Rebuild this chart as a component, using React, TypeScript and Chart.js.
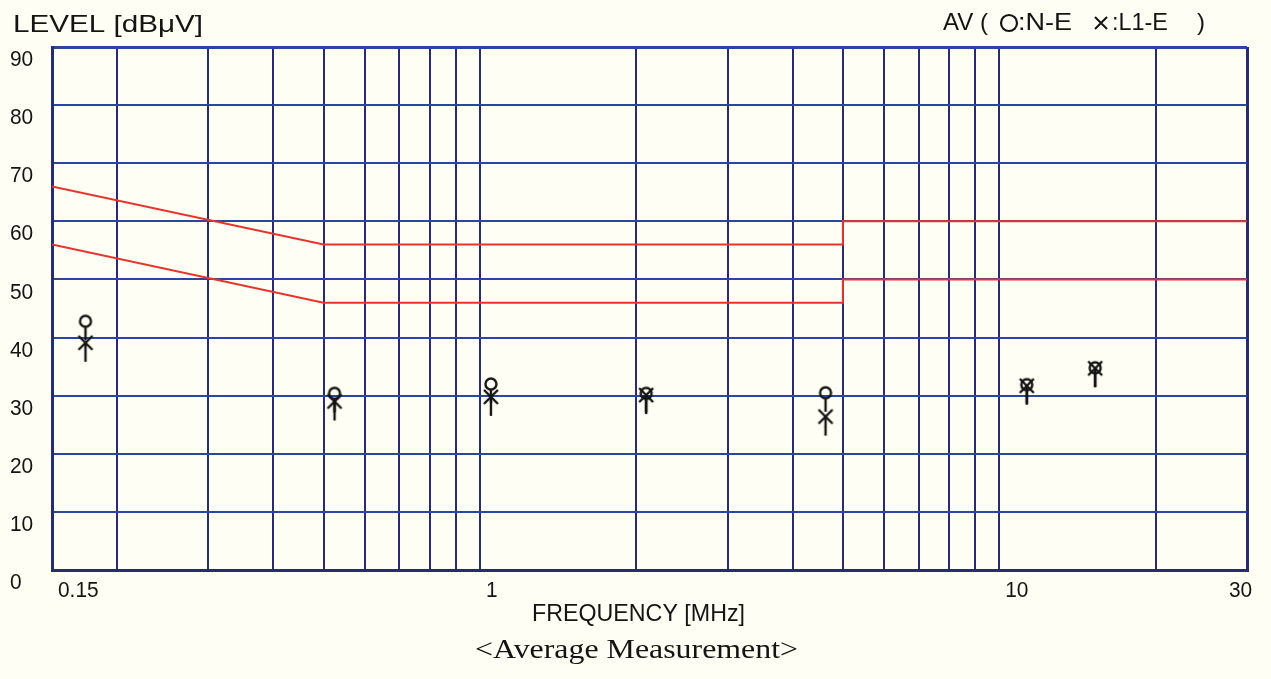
import React, { useEffect, useRef } from "react";
import { Chart, registerables } from "chart.js";

Chart.register(...registerables);

// ---- data ----
const FREQ_MHZ = [0.174, 0.525, 1.05, 2.09, 4.63, 11.3, 15.3];
const LEVEL_NE = [42.8, 30.4, 32.0, 30.4, 30.5, 31.9, 34.8];
const LEVEL_L1E = [39.1, 29.0, 29.8, 30.1, 26.4, 31.7, 34.7];

const LIMIT_FREQ = [0.15, 0.5, 5, 5, 30];
const LIMIT_UPPER = [66, 56, 56, 60, 60];
const LIMIT_LOWER = [56, 46, 46, 50, 50];

const X_GRID = [0.15, 0.2, 0.3, 0.4, 0.5, 0.6, 0.7, 0.8, 0.9, 1, 2, 3, 4, 5, 6, 7, 8, 9, 10, 20, 30];
const X_LABELS = [0.15, 1, 10, 30];
const Y_TICKS = [0, 10, 20, 30, 40, 50, 60, 70, 80, 90];

const Y_TITLE = "LEVEL [dB\u03BCV]";
const X_TITLE = "FREQUENCY [MHz]";
const LEGEND_PREFIX = "AV (";
const LEGEND_NE = ":N-E";
const LEGEND_L1E = ":L1-E";
const LEGEND_SUFFIX = ")";
const CAPTION = "<Average Measurement>";

const BG = "#fefef4";
const INK = "#141414";

function makeMarker(kind: "circle" | "cross"): HTMLCanvasElement {
  const c = document.createElement("canvas");
  c.width = 22;
  c.height = 60;
  const g = c.getContext("2d")!;
  g.strokeStyle = INK;
  g.lineWidth = 2.4;
  g.lineCap = "butt";
  const cx = 11;
  const cy = 30;
  if (kind === "circle") {
    g.beginPath();
    g.arc(cx, cy, 5.5, 0, Math.PI * 2);
    g.stroke();
    g.beginPath();
    g.moveTo(cx, cy + 5.5);
    g.lineTo(cx, cy + 19);
    g.stroke();
  } else {
    g.beginPath();
    g.moveTo(cx - 7, cy - 7);
    g.lineTo(cx + 7, cy + 7);
    g.moveTo(cx + 7, cy - 7);
    g.lineTo(cx - 7, cy + 7);
    g.stroke();
    g.beginPath();
    g.moveTo(cx, cy);
    g.lineTo(cx, cy + 19);
    g.stroke();
  }
  return c;
}

const bgPlugin = {
  id: "bgFill",
  beforeDraw(chart: any) {
    const { ctx, width, height } = chart;
    ctx.save();
    ctx.fillStyle = BG;
    ctx.fillRect(0, 0, width, height);
    ctx.restore();
  },
};

const textPlugin = {
  id: "texts",
  afterDraw(chart: any) {
    const { ctx, chartArea: a, scales } = chart;
    const tickFont = '22px "Liberation Sans", Arial, sans-serif';
    const titleFont = '24px "Liberation Sans", Arial, sans-serif';
    const draw = (
      text: string,
      x: number,
      y: number,
      font: string,
      opts: { width?: number; sx?: number; baseline?: CanvasTextBaseline } = {}
    ) => {
      ctx.save();
      ctx.font = font;
      ctx.fillStyle = INK;
      ctx.textAlign = "left";
      ctx.textBaseline = opts.baseline || "middle";
      const w = ctx.measureText(text).width;
      const s = opts.width ? opts.width / w : opts.sx ?? 1;
      ctx.translate(x, y);
      ctx.scale(s, 1);
      ctx.fillText(text, 0, 0);
      ctx.restore();
    };
    // y tick labels
    Y_TICKS.forEach((v) => {
      draw(String(v), a.left - 42, scales.y.getPixelForValue(v) + 13, tickFont, { sx: 0.95 });
    });
    // x tick labels
    X_LABELS.forEach((v, i) => {
      const px = scales.x.getPixelForValue(v);
      const last = i === X_LABELS.length - 1;
      draw(String(v), last ? px - 18 : px + 6, a.bottom + 21, tickFont, { sx: 0.95 });
    });
    // titles
    draw(Y_TITLE, a.left - 39, a.top - 22, titleFont, { width: 190 });
    // legend
    const ly = a.top - 24;
    const lx = a.left + 891;
    draw(LEGEND_PREFIX, lx, ly, titleFont, { width: 45 });
    ctx.save();
    ctx.strokeStyle = INK;
    ctx.lineWidth = 2.2;
    ctx.beginPath();
    ctx.arc(lx + 66, ly, 8, 0, Math.PI * 2);
    ctx.stroke();
    ctx.lineWidth = 2;
    ctx.beginPath();
    ctx.moveTo(lx + 152, ly - 6);
    ctx.lineTo(lx + 164, ly + 6);
    ctx.moveTo(lx + 164, ly - 6);
    ctx.lineTo(lx + 152, ly + 6);
    ctx.stroke();
    ctx.restore();
    draw(LEGEND_NE, lx + 75, ly, titleFont, { width: 54 });
    draw(LEGEND_L1E, lx + 169, ly, titleFont, { width: 56 });
    draw(LEGEND_SUFFIX, lx + 254, ly, titleFont);
    draw(X_TITLE, a.left + 480, a.bottom + 44, titleFont, { width: 213 });
    draw(CAPTION, a.left + 423, a.bottom + 88, '27px "Liberation Serif", "Times New Roman", serif', {
      width: 323,
      baseline: "alphabetic",
    });
  },
};

export default function App() {
  const ref = useRef<HTMLCanvasElement | null>(null);

  useEffect(() => {
    document.body.style.background = BG;
    const canvas = ref.current;
    if (!canvas) return;
    const circleImg = makeMarker("circle");
    const crossImg = makeMarker("cross");

    const chart = new Chart(canvas, {
      type: "scatter",
      data: {
        datasets: [
          {
            label: "N-E",
            data: FREQ_MHZ.map((f, i) => ({ x: f, y: LEVEL_NE[i] })),
            pointStyle: circleImg as any,
            showLine: false,
          },
          {
            label: "L1-E",
            data: FREQ_MHZ.map((f, i) => ({ x: f, y: LEVEL_L1E[i] })),
            pointStyle: crossImg as any,
            showLine: false,
          },
          {
            label: "Limit QP",
            type: "line",
            data: LIMIT_FREQ.map((f, i) => ({ x: f, y: LIMIT_UPPER[i] })),
            borderColor: "#e8352c",
            borderWidth: 2,
            pointRadius: 0,
            fill: false,
            tension: 0,
          } as any,
          {
            label: "Limit AV",
            type: "line",
            data: LIMIT_FREQ.map((f, i) => ({ x: f, y: LIMIT_LOWER[i] })),
            borderColor: "#e8352c",
            borderWidth: 2,
            pointRadius: 0,
            fill: false,
            tension: 0,
          } as any,
        ],
      },
      options: {
        animation: false,
        responsive: true,
        maintainAspectRatio: false,
        events: [],
        layout: { padding: { left: 44, right: 16, top: 39, bottom: 101 } },
        plugins: {
          legend: { display: false },
          tooltip: { enabled: false },
          title: { display: false },
        },
        scales: {
          x: {
            type: "logarithmic",
            min: 0.15,
            max: 30,
            afterBuildTicks: (scale: any) => {
              scale.ticks = X_GRID.map((v) => ({ value: v }));
            },
            ticks: { display: false },
            grid: {
              color: "#272c70",
              lineWidth: (c: any) => (c.tick && (c.tick.value === 30 || c.tick.value === 0.15) ? 3 : 2),
              drawTicks: false,
            },
            border: { display: true, color: "#272c70", width: 3 },
          },
          y: {
            type: "linear",
            min: 0,
            max: 90,
            afterBuildTicks: (scale: any) => {
              scale.ticks = Y_TICKS.map((v) => ({ value: v }));
            },
            ticks: { display: false },
            grid: {
              color: "#2a46a2",
              lineWidth: (c: any) => (c.tick && (c.tick.value === 90 || c.tick.value === 0) ? 3 : 2),
              drawTicks: false,
            },
            border: { display: true, color: "#272c70", width: 3 },
          },
        },
      },
      plugins: [bgPlugin, textPlugin],
    });
    return () => chart.destroy();
  }, []);

  return (
    <div style={{ position: "relative", width: "1255px", height: "663px" }}>
      <canvas ref={ref} />
    </div>
  );
}
